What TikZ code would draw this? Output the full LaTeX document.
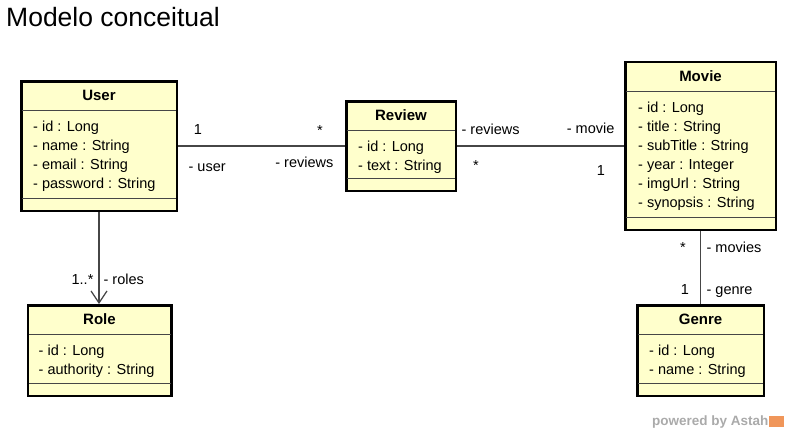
\documentclass[tikz,border=0pt]{standalone}
\usepackage{fontspec}
\setmainfont{Liberation Sans}
\usetikzlibrary{positioning,calc}
\usetikzlibrary{arrows.meta}
\definecolor{classfill}{RGB}{255,255,204}
\definecolor{linegray}{RGB}{70,70,70}
\definecolor{astahgray}{RGB}{170,170,170}
\definecolor{astahorange}{RGB}{240,150,90}
\tikzset{
  classbox/.style = {rectangle, draw=black, line width=2.5pt, fill=classfill,
    inner sep=0pt},
  classname/.style = {font=\bfseries\fontsize{15}{18}\selectfont, inner sep=0pt,
    text height=10.7pt, text depth=0pt},% class title
  attr/.style = {font=\fontsize{14.5}{17}\selectfont, inner sep=0pt,
    text height=10.4pt, text depth=0pt, anchor=west},
  mult/.style = {attr, anchor=center},
  sepline/.style = {draw=linegray, line width=1pt, shorten <=2pt, shorten >=2pt},
  assoc/.style = {draw=linegray, line width=1.2pt},
}

\begin{document}
\begin{tikzpicture}[x=1pt,y=-1pt]
\useasboundingbox (0,0) rectangle (787,436);
\node[anchor=west, inner sep=0pt, font=\fontsize{26.5}{30}\selectfont,
  text height=19pt, text depth=0pt] (title) at (6,17) {Modelo conceitual};

% User
\node[classbox, minimum width=155.5pt, minimum height=129.5pt] (user) at (99,146) {};
\node[classname] (user-name) at ($(user.north)+(0,15.5)$) {User};
\draw[sepline] ($(user.north west)+(0,30)$) -- ($(user.north east)+(0,30)$);
\foreach \a [count=\i] in {- id : Long, - name : String, - email : String, - password : String}
  \node[attr] (user-\i) at ($(user.north west)+(13,27.5+19*\i)$) {\a};
\draw[sepline] ($(user.south west)+(0,-14)$) -- ($(user.south east)+(0,-14)$);

% Review
\node[classbox, minimum width=109.5pt, minimum height=89.5pt] (review) at (401,146) {};
\node[classname] (review-name) at ($(review.north)+(0,15.5)$) {Review};
\draw[sepline] ($(review.north west)+(0,30)$) -- ($(review.north east)+(0,30)$);
\foreach \a [count=\i] in {- id : Long, - text : String}
  \node[attr] (review-\i) at ($(review.north west)+(13,27.5+19*\i)$) {\a};
\draw[sepline] ($(review.south west)+(0,-14)$) -- ($(review.south east)+(0,-14)$);

% Movie
\node[classbox, minimum width=150.5pt, minimum height=167.5pt] (movie) at (700.5,146) {};
\node[classname] (movie-name) at ($(movie.north)+(0,15.5)$) {Movie};
\draw[sepline] ($(movie.north west)+(0,30)$) -- ($(movie.north east)+(0,30)$);
\foreach \a [count=\i] in {- id : Long, - title : String, - subTitle : String,
    - year : Integer, - imgUrl : String, - synopsis : String}
  \node[attr] (movie-\i) at ($(movie.north west)+(14,27.5+19*\i)$) {\a};
\draw[sepline] ($(movie.south west)+(0,-14)$) -- ($(movie.south east)+(0,-14)$);

% Role
\node[classbox, minimum width=143.5pt, minimum height=90.5pt] (role) at (99.5,350.5) {};
\node[classname] (role-name) at ($(role.north)+(0,15.5)$) {Role};
\draw[sepline] ($(role.north west)+(0,30)$) -- ($(role.north east)+(0,30)$);
\foreach \a [count=\i] in {- id : Long, - authority : String}
  \node[attr] (role-\i) at ($(role.north west)+(12,27.5+19*\i)$) {\a};
\draw[sepline] ($(role.south west)+(0,-14)$) -- ($(role.south east)+(0,-14)$);

% Genre
\node[classbox, minimum width=126.5pt, minimum height=90.5pt] (genre) at (700.5,350.5) {};
\node[classname] (genre-name) at ($(genre.north)+(0,15.5)$) {Genre};
\draw[sepline] ($(genre.north west)+(0,30)$) -- ($(genre.north east)+(0,30)$);
\foreach \a [count=\i] in {- id : Long, - name : String}
  \node[attr] (genre-\i) at ($(genre.north west)+(13,27.5+19*\i)$) {\a};
\draw[sepline] ($(genre.south west)+(0,-14)$) -- ($(genre.south east)+(0,-14)$);

% associations
\draw[assoc] (user) -- (review)
  node[mult, at start, xshift=20pt, yshift=17pt] (user-one) {1}
  node[attr, at start, xshift=10pt, yshift=-20pt] (user-end) {- user}
  node[mult, at end, xshift=-25pt, yshift=16pt] (reviews-many) {*}
  node[attr, at end, anchor=east, xshift=-11pt, yshift=-16.5pt] (reviews-end) {- reviews};
\draw[assoc] (review) -- (movie)
  node[attr, at start, xshift=4pt, yshift=16.5pt] (reviews2-end) {- reviews}
  node[mult, at start, xshift=19pt, yshift=-19pt] (reviews2-many) {*}
  node[attr, at end, anchor=east, xshift=-9pt, yshift=17.5pt] (movie-end) {- movie}
  node[mult, at end, xshift=-23pt, yshift=-24pt] (movie-one) {1};
\draw[assoc, -{Straight Barb[length=12pt, width=16pt, line width=1.2pt]}]
  (user.south) -- (user.south |- role.north)
  node[attr, at end, anchor=east, xshift=-5pt, yshift=25pt] (roles-many) {1..*}
  node[attr, at end, xshift=4pt, yshift=25pt] (roles-end) {- roles};
\draw[assoc] (movie) -- (genre)
  node[mult, at start, xshift=-17.5pt, yshift=-16pt] (movies-many) {*}
  node[attr, at start, xshift=5.5pt, yshift=-16pt] (movies-end) {- movies}
  node[mult, at end, xshift=-15.5pt, yshift=15pt] (genre-one) {1}
  node[attr, at end, xshift=5.5pt, yshift=15pt] (genre-end) {- genre};

\node[anchor=west, inner sep=0pt, font=\bfseries\fontsize{13.5}{16}\selectfont,
  text=astahgray, text height=9.7pt, text depth=0pt] (powered) at (652,421) {powered by Astah};
\node[right=0.5pt of powered, fill=astahorange, minimum width=15pt, minimum height=11pt,
  inner sep=0pt] (astah-logo) {};
\end{tikzpicture}
\end{document}
